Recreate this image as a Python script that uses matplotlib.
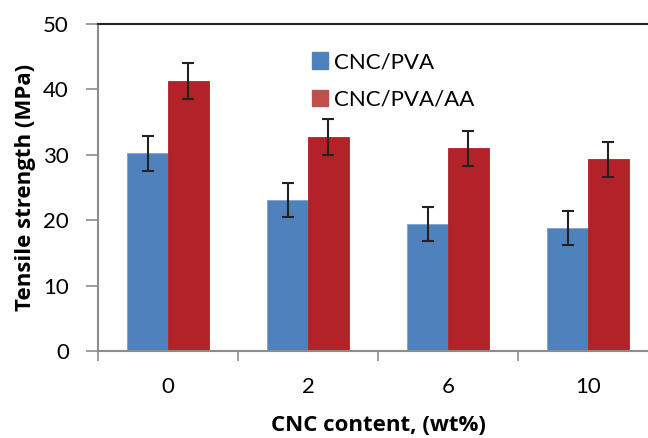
import numpy as np
import matplotlib
matplotlib.use("Agg")
import matplotlib.pyplot as plt
from matplotlib.patches import Patch

plt.rcParams['font.family'] = ['Lato', 'DejaVu Sans']

# data
categories = ['0', '2', '6', '10']
pva = [30.2, 23.1, 19.4, 18.8]
pva_err = [2.65, 2.6, 2.65, 2.6]
pva_aa = [41.3, 32.7, 31.0, 29.3]
pva_aa_err = [2.75, 2.7, 2.7, 2.7]

blue = '#4F81BD'
red = '#B22228'
grey = '#8C8C8C'

fig = plt.figure(figsize=(6.48, 4.38), dpi=100)
# axes runs past the right edge, like the cropped original
ax = fig.add_axes([98 / 648, 1 - 351 / 438, 560 / 648, 327 / 438])

x = np.arange(len(categories))
w = 0.29
ebar = dict(ecolor='#222222', elinewidth=1.5, capsize=4, capthick=1.5)
ax.bar(x - w / 2, pva, w, color=blue, edgecolor='#7FA3D0', linewidth=0.6,
       yerr=pva_err, error_kw=ebar)
ax.bar(x + w / 2, pva_aa, w, color=red, edgecolor=red, linewidth=0.6,
       yerr=pva_aa_err, error_kw=ebar)

ax.set_xlim(-0.5, len(categories) - 0.5)
ax.set_ylim(0, 50)
ax.set_yticks(range(0, 51, 10))
ax.set_xticks(x)
ax.set_xticklabels(categories)
ax.set_xticks(np.arange(-0.5, len(categories), 1.0), minor=True)

ax.tick_params(axis='y', direction='out', length=9, width=1.2, color=grey,
               labelsize=16, pad=12)
ax.tick_params(axis='x', which='major', length=0, labelsize=16, pad=19)
ax.tick_params(axis='x', which='minor', direction='out', length=7, width=1.2, color=grey)

ax.spines['left'].set_color(grey)
ax.spines['left'].set_linewidth(1.5)
ax.spines['bottom'].set_color(grey)
ax.spines['bottom'].set_linewidth(1.5)
ax.spines['top'].set_color('#222222')
ax.spines['top'].set_linewidth(1.5)
ax.spines['right'].set_visible(False)

lab = dict(fontsize=16, fontweight='bold', family=['Open Sans', 'DejaVu Sans'])
ax.set_ylabel('Tensile strength (MPa)', labelpad=5, **lab)
ax.set_xlabel('CNC content, (wt%)', labelpad=13, **lab)

handles = [Patch(color=blue), Patch(color='#C0504D')]
ax.legend(handles, ['CNC/PVA', 'CNC/PVA/AA'], loc='upper left',
          bbox_to_anchor=(194 / 560, 0.975), frameon=False, fontsize=16,
          handlelength=0.7, handleheight=0.75, handletextpad=0.3, labelspacing=0.8)

fig.savefig('out.png', dpi=100)
